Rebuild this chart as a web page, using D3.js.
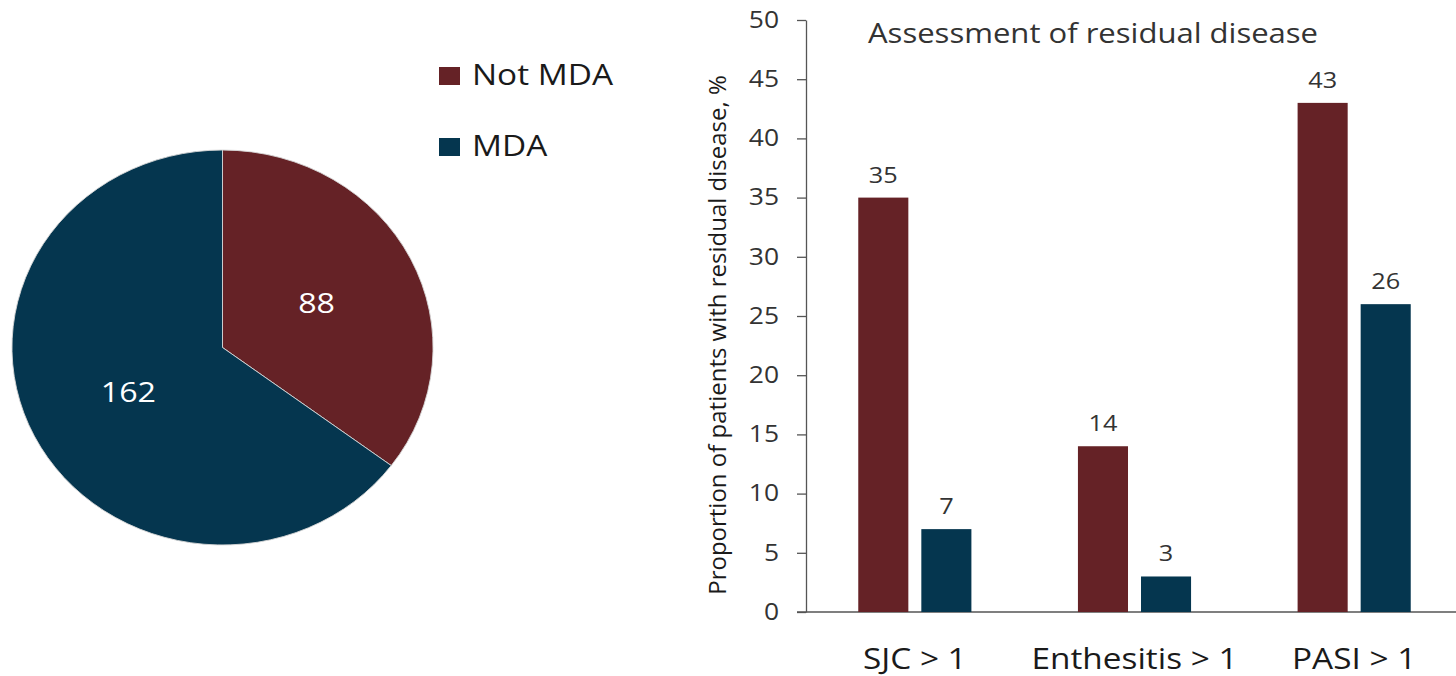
<!DOCTYPE html>
<html>
<head>
<meta charset="utf-8">
<script src="https://cdn.jsdelivr.net/npm/d3@7"></script>
<style>
  html, body { margin: 0; padding: 0; background: #ffffff; }
  svg { display: block; font-family: "Open Sans", "Noto Sans", sans-serif; }
</style>
</head>
<body>
<svg id="chart" width="1456" height="676"></svg>
<script>
// Patient counts by MDA status (pie)
const pieLabels = ["Not MDA", "MDA"];
const pieCounts = [88, 162];

// Residual disease by criterion (grouped bars), %
const categories = ["SJC > 1", "Enthesitis > 1", "PASI > 1"];
const seriesNames = ["Not MDA", "MDA"];
const notMdaPct = [35, 14, 43];
const mdaPct = [7, 3, 26];

// Y axis ticks
const yTicks = [0, 5, 10, 15, 20, 25, 30, 35, 40, 45, 50];

const titleText = "Assessment of residual disease";
const yAxisTitle = "Proportion of patients with residual disease, %";

const colors = { "Not MDA": "#652226", "MDA": "#05364f" };
const textColor = "#333333";
const axisColor = "#555555";
const stretch = 1.15;   // horizontal text widening

const svg = d3.select("#chart");

// ---------- Pie ----------
const pieCx = 222.5, pieCy = 347.5, pieR = 197.5, pieSx = 1.066;
const pieData = d3.pie().sort(null).value(d => d.value)(
  pieLabels.map((k, i) => ({ key: k, value: pieCounts[i] }))
);
const arc = d3.arc().innerRadius(0).outerRadius(pieR);

const pieG = svg.append("g")
  .attr("transform", `translate(${pieCx},${pieCy}) scale(${pieSx},1)`);
pieG.selectAll("path")
  .data(pieData)
  .join("path")
  .attr("d", arc)
  .attr("fill", d => colors[d.data.key])
  .attr("stroke", "#d6d6d6")
  .attr("stroke-width", 0.9)
  .attr("vector-effect", "non-scaling-stroke");

const labelArc = d3.arc().innerRadius(0).outerRadius(pieR);
svg.append("g").selectAll("text")
  .data(pieData)
  .join("text")
  .attr("transform", d => {
    const [cx, cy] = labelArc.centroid(d);
    return `translate(${pieCx + cx * pieSx},${pieCy + cy}) scale(${stretch},1)`;
  })
  .attr("text-anchor", "middle")
  .attr("dy", "0.36em")
  .attr("fill", "#ffffff")
  .attr("font-size", 28)
  .text(d => d.data.value);

// ---------- Legend ----------
const legend = svg.append("g").attr("transform", "translate(439,67)");
const legendRow = legend.selectAll("g")
  .data(seriesNames)
  .join("g")
  .attr("transform", (d, i) => `translate(0,${i * 71})`);
legendRow.append("rect")
  .attr("width", 21).attr("height", 18)
  .attr("fill", d => colors[d]);
legendRow.append("text")
  .attr("transform", `translate(33,18) scale(${stretch},1)`)
  .attr("font-size", 29)
  .attr("fill", "#1a1a1a")
  .text(d => d);

// ---------- Bar chart ----------
const axisX = 806, plotRight = 1456;
const y = d3.scaleLinear().domain([0, 50]).range([612, 20]);

const x0 = d3.scaleBand()
  .domain(categories)
  .range([805, 1464])
  .paddingInner(0.485)
  .paddingOuter(0.2425);
const x1 = d3.scaleBand()
  .domain(seriesNames)
  .range([0, x0.bandwidth()])
  .paddingInner(0.206);

const yAxis = d3.axisLeft(y)
  .tickValues(yTicks)
  .tickSize(9)
  .tickSizeOuter(0)
  .tickFormat(d3.format("d"));
const yAxisG = svg.append("g")
  .attr("transform", `translate(${axisX},0)`)
  .call(yAxis);
yAxisG.select(".domain").attr("stroke", axisColor).attr("stroke-width", 1.3);
yAxisG.selectAll(".tick line").attr("stroke", axisColor).attr("stroke-width", 1.3);
yAxisG.selectAll(".tick text")
  .attr("x", null)
  .attr("transform", `translate(-27,0) scale(${stretch},1)`)
  .attr("font-size", 23)
  .attr("font-family", "\"Open Sans\", sans-serif")
  .attr("fill", textColor);

// baseline running across the plot
svg.append("line")
  .attr("x1", axisX - 9).attr("x2", plotRight)
  .attr("y1", y(0)).attr("y2", y(0))
  .attr("stroke", axisColor).attr("stroke-width", 1.3);

const rows = categories.map((c, i) => ({
  cat: c,
  vals: [
    { key: "Not MDA", value: notMdaPct[i] },
    { key: "MDA", value: mdaPct[i] }
  ]
}));

const groups = svg.append("g").selectAll("g")
  .data(rows)
  .join("g")
  .attr("transform", d => `translate(${x0(d.cat)},0)`);

groups.selectAll("rect")
  .data(d => d.vals)
  .join("rect")
  .attr("x", d => x1(d.key))
  .attr("y", d => y(d.value))
  .attr("width", x1.bandwidth())
  .attr("height", d => y(0) - y(d.value))
  .attr("fill", d => colors[d.key]);

groups.selectAll("text.val")
  .data(d => d.vals)
  .join("text")
  .attr("class", "val")
  .attr("transform", d => `translate(${x1(d.key) + x1.bandwidth() / 2},${y(d.value) - 15}) scale(${stretch},1)`)
  .attr("text-anchor", "middle")
  .attr("font-size", 22)
  .attr("fill", textColor)
  .text(d => d.value);

// category labels
svg.append("g").selectAll("text")
  .data(categories)
  .join("text")
  .attr("transform", d => `translate(${x0(d) + x0.bandwidth() / 2},669) scale(${stretch},1)`)
  .attr("text-anchor", "middle")
  .attr("font-size", 29)
  .attr("fill", "#1a1a1a")
  .text(d => d);

// title
svg.append("text")
  .attr("transform", `translate(868,43) scale(${stretch},1)`)
  .attr("font-size", 27)
  .attr("fill", textColor)
  .text(titleText);

// y axis title
svg.append("text")
  .attr("transform", "translate(726,335) rotate(-90)")
  .attr("text-anchor", "middle")
  .attr("font-size", 24)
  .attr("fill", "#1a1a1a")
  .text(yAxisTitle);
</script>
</body>
</html>
